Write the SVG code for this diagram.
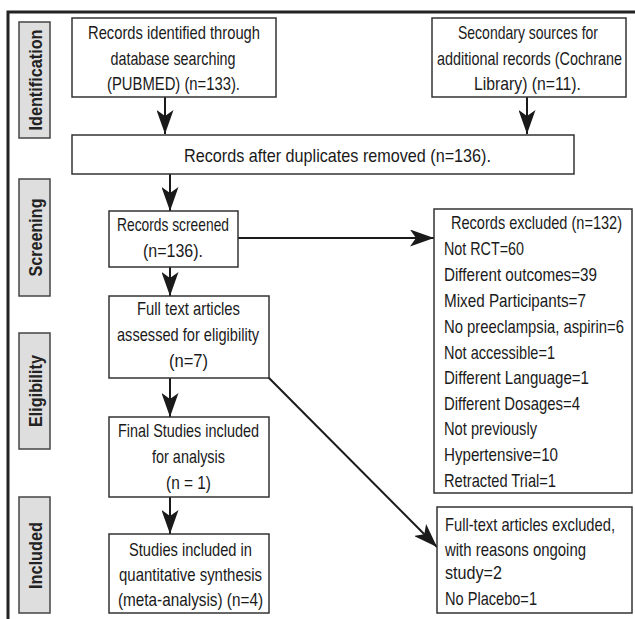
<svg xmlns="http://www.w3.org/2000/svg" width="635" height="619" viewBox="0 0 635 619">
<defs>
<style>
.bg{fill:#ffffff}
.frame{fill:none;stroke:#222;stroke-width:3}
.box{fill:#ffffff;stroke:#333;stroke-width:1.5}
.side{fill:#dedede;stroke:#444;stroke-width:1.5}
.t{font-family:"Liberation Sans",Arial,sans-serif;font-size:19px;fill:#1a1a1a}
.c{text-anchor:middle}
.s{font-family:"Liberation Sans",Arial,sans-serif;font-size:18px;font-weight:bold;fill:#222;text-anchor:middle}
.conn{fill:none;stroke:#1a1a1a;stroke-width:2}
</style>
<marker id="arr" markerUnits="userSpaceOnUse" markerWidth="24" markerHeight="17" refX="24" refY="8.5" orient="auto" viewBox="0 0 24 17">
<path d="M0,0 L24,8.5 L0,17 L6,8.5 Z" fill="#1a1a1a"/>
</marker>
</defs>
<rect class="bg" x="0" y="0" width="635" height="619"/>
<path class="frame" d="M8,619 L8,12 L635,12"/>

<g id="label-identification">
<rect class="side" x="19" y="22" width="31" height="116"/>
<text class="s" transform="translate(34.5,80) rotate(-90)" y="7" textLength="101" lengthAdjust="spacingAndGlyphs">Identification</text>
</g>
<g id="label-screening">
<rect class="side" x="19" y="179" width="31" height="117"/>
<text class="s" transform="translate(34.5,237.5) rotate(-90)" y="7" textLength="78" lengthAdjust="spacingAndGlyphs">Screening</text>
</g>
<g id="label-eligibility">
<rect class="side" x="19" y="333" width="31" height="116"/>
<text class="s" transform="translate(34.5,391) rotate(-90)" y="7" textLength="72" lengthAdjust="spacingAndGlyphs">Eligibility</text>
</g>
<g id="label-included">
<rect class="side" x="19" y="497" width="31" height="116"/>
<text class="s" transform="translate(34.5,555.5) rotate(-90)" y="7" textLength="67" lengthAdjust="spacingAndGlyphs">Included</text>
</g>

<g id="connectors">
<line class="conn" x1="165" y1="97" x2="165" y2="134" marker-end="url(#arr)"/>
<line class="conn" x1="527" y1="97" x2="527" y2="134" marker-end="url(#arr)"/>
<line class="conn" x1="170" y1="174" x2="170" y2="211" marker-end="url(#arr)"/>
<line class="conn" x1="238" y1="238" x2="434" y2="238" marker-end="url(#arr)"/>
<line class="conn" x1="170" y1="267" x2="170" y2="296" marker-end="url(#arr)"/>
<line class="conn" x1="170" y1="378" x2="170" y2="417" marker-end="url(#arr)"/>
<line class="conn" x1="170" y1="497" x2="170" y2="534" marker-end="url(#arr)"/>
<line class="conn" x1="268" y1="377" x2="437" y2="547" marker-end="url(#arr)"/>
</g>

<g id="n-pubmed">
<rect class="box" x="72" y="18" width="204" height="79"/>
<text class="t c" x="174" y="39" textLength="172" lengthAdjust="spacingAndGlyphs">Records identified through</text>
<text class="t c" x="173" y="65" textLength="125" lengthAdjust="spacingAndGlyphs">database searching</text>
<text class="t c" x="173.5" y="90" textLength="133" lengthAdjust="spacingAndGlyphs">(PUBMED) (n=133).</text>
</g>
<g id="n-cochrane">
<rect class="box" x="432" y="18" width="194" height="79"/>
<text class="t c" x="528" y="39" textLength="140" lengthAdjust="spacingAndGlyphs">Secondary sources for</text>
<text class="t c" x="529.5" y="65" textLength="185" lengthAdjust="spacingAndGlyphs">additional records (Cochrane</text>
<text class="t c" x="527.5" y="90" textLength="107" lengthAdjust="spacingAndGlyphs">Library) (n=11).</text>
</g>
<g id="n-dedup">
<rect class="box" x="72" y="135" width="502" height="39"/>
<text class="t c" x="337.5" y="162" textLength="307" lengthAdjust="spacingAndGlyphs">Records after duplicates removed (n=136).</text>
</g>
<g id="n-screened">
<rect class="box" x="109" y="211" width="129" height="56"/>
<text class="t c" x="173" y="231" textLength="112" lengthAdjust="spacingAndGlyphs">Records screened</text>
<text class="t c" x="173" y="257" textLength="60" lengthAdjust="spacingAndGlyphs">(n=136).</text>
</g>
<g id="n-excluded">
<rect class="box" x="434" y="209" width="198" height="284"/>
<text class="t" x="451" y="229" textLength="171" lengthAdjust="spacingAndGlyphs">Records excluded (n=132)</text>
<text class="t" x="444" y="255" textLength="80" lengthAdjust="spacingAndGlyphs">Not RCT=60</text>
<text class="t" x="444" y="281" textLength="153" lengthAdjust="spacingAndGlyphs">Different outcomes=39</text>
<text class="t" x="444" y="307" textLength="142" lengthAdjust="spacingAndGlyphs">Mixed Participants=7</text>
<text class="t" x="444" y="333" textLength="180" lengthAdjust="spacingAndGlyphs">No preeclampsia, aspirin=6</text>
<text class="t" x="444" y="359" textLength="111" lengthAdjust="spacingAndGlyphs">Not accessible=1</text>
<text class="t" x="444" y="384" textLength="145" lengthAdjust="spacingAndGlyphs">Different Language=1</text>
<text class="t" x="444" y="410" textLength="136" lengthAdjust="spacingAndGlyphs">Different Dosages=4</text>
<text class="t" x="444" y="435" textLength="93" lengthAdjust="spacingAndGlyphs">Not previously</text>
<text class="t" x="444" y="461" textLength="114" lengthAdjust="spacingAndGlyphs">Hypertensive=10</text>
<text class="t" x="444" y="487" textLength="112" lengthAdjust="spacingAndGlyphs">Retracted Trial=1</text>
</g>
<g id="n-fulltext">
<rect class="box" x="109" y="296" width="160" height="82"/>
<text class="t c" x="188.5" y="315" textLength="103" lengthAdjust="spacingAndGlyphs">Full text articles</text>
<text class="t c" x="188" y="341" textLength="142" lengthAdjust="spacingAndGlyphs">assessed for eligibility</text>
<text class="t c" x="188.5" y="367" textLength="39" lengthAdjust="spacingAndGlyphs">(n=7)</text>
</g>
<g id="n-final">
<rect class="box" x="109" y="417" width="160" height="80"/>
<text class="t c" x="188.5" y="437" textLength="141" lengthAdjust="spacingAndGlyphs">Final Studies included</text>
<text class="t c" x="188.5" y="463" textLength="73" lengthAdjust="spacingAndGlyphs">for analysis</text>
<text class="t c" x="188.5" y="489" textLength="45" lengthAdjust="spacingAndGlyphs">(n = 1)</text>
</g>
<g id="n-quant">
<rect class="box" x="109" y="534" width="160" height="79"/>
<text class="t c" x="190.5" y="556" textLength="123" lengthAdjust="spacingAndGlyphs">Studies included in</text>
<text class="t c" x="190.5" y="581" textLength="143" lengthAdjust="spacingAndGlyphs">quantitative synthesis</text>
<text class="t c" x="190.5" y="606" textLength="145" lengthAdjust="spacingAndGlyphs">(meta-analysis) (n=4)</text>
</g>
<g id="n-ftexcluded">
<rect class="box" x="437" y="507" width="195" height="106"/>
<text class="t" x="445" y="531" textLength="170" lengthAdjust="spacingAndGlyphs">Full-text articles excluded,</text>
<text class="t" x="445" y="556" textLength="141" lengthAdjust="spacingAndGlyphs">with reasons ongoing</text>
<text class="t" x="445" y="579" textLength="57" lengthAdjust="spacingAndGlyphs">study=2</text>
<text class="t" x="445" y="605" textLength="92" lengthAdjust="spacingAndGlyphs">No Placebo=1</text>
</g>
</svg>
